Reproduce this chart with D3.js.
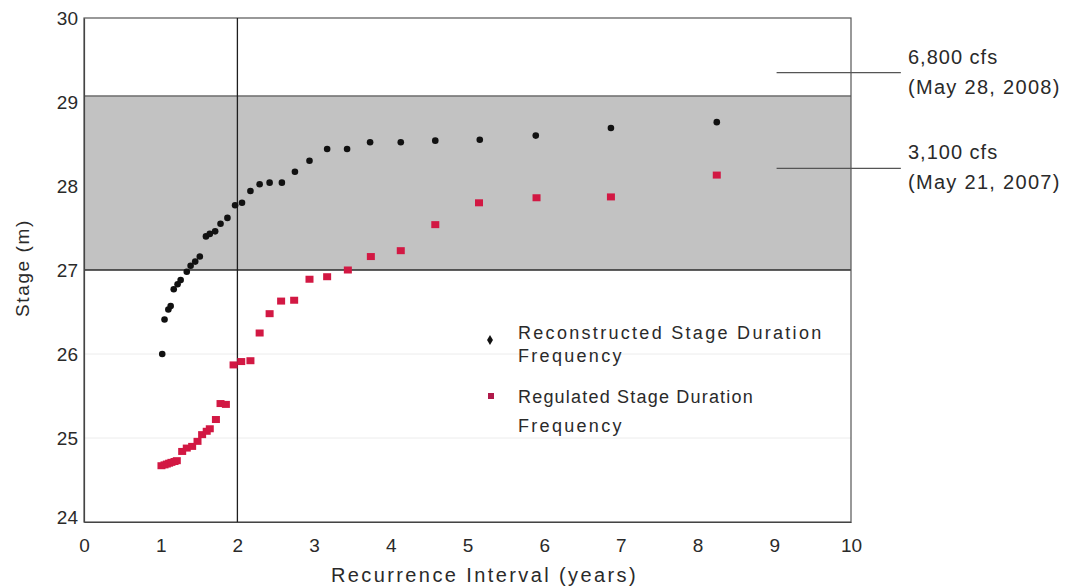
<!DOCTYPE html>
<head>
    <meta charset="utf-8">
    <title>Stage Duration Frequency</title>
    <script type="text/javascript" src="https://d3js.org/d3.v7.min.js"></script>
    <style>
        body { margin: 0; background: #fff; }
        text { font-family: "Liberation Sans", Arial, sans-serif; fill: #2a2a2a; }
    </style>
</head>
<body>
<div id="container"></div>

<script>
    //------------------------1. DATA------------------------//
    // recurrence interval (years) / stage (m)
    const reconX = [1.02, 1.05, 1.10, 1.13, 1.17, 1.22, 1.26, 1.34, 1.39, 1.45, 1.51, 1.59, 1.64, 1.71, 1.78, 1.87, 1.97,
        2.06, 2.17, 2.29, 2.42, 2.58, 2.75, 2.94, 3.17, 3.43, 3.73, 4.13, 4.58, 5.16, 5.89, 6.87, 8.25];
    const reconY = [26.00, 26.41, 26.53, 26.57, 26.77, 26.83, 26.88, 26.98, 27.05, 27.10, 27.16, 27.40, 27.43, 27.46, 27.55, 27.62, 27.77,
        27.80, 27.94, 28.02, 28.04, 28.04, 28.17, 28.30, 28.44, 28.44, 28.52, 28.52, 28.54, 28.55, 28.60, 28.69, 28.76];

    const regX = [1.01, 1.05, 1.08, 1.11, 1.14, 1.18, 1.21, 1.28, 1.34, 1.41, 1.48, 1.54, 1.60, 1.64, 1.72, 1.78, 1.85, 1.95,
        2.05, 2.17, 2.29, 2.42, 2.57, 2.74, 2.94, 3.17, 3.44, 3.74, 4.13, 4.58, 5.15, 5.90, 6.87, 8.25];
    const regY = [24.67, 24.68, 24.69, 24.70, 24.71, 24.72, 24.73, 24.84, 24.88, 24.90, 24.96, 25.04, 25.08, 25.11, 25.22, 25.41, 25.40, 25.87,
        25.91, 25.92, 26.25, 26.48, 26.63, 26.64, 26.89, 26.92, 27.00, 27.16, 27.23, 27.54, 27.80, 27.86, 27.87, 28.13];

    const xTicks = [0, 1, 2, 3, 4, 5, 6, 7, 8, 9, 10];
    const yTicks = [24, 25, 26, 27, 28, 29, 30];

    // shaded stage band and the 2-year line
    const band = [27, 29.07];
    const refInterval = 2;

    // flow annotations on the right
    const annoStage = [29.35, 28.21];
    const annoFlow = ["6,800 cfs", "3,100 cfs"];
    const annoDate = ["(May 28, 2008)", "(May 21, 2007)"];

    //------------------------2. SVG------------------------//
    const width = 1071;
    const height = 588;
    const plot = {left: 84, top: 18, right: 851, bottom: 522};

    const svg = d3.select("div#container").append("svg")
        .attr("width", width)
        .attr("height", height);

    const xScale = d3.scaleLinear().domain([0, 10]).range([plot.left, plot.right]);
    const yScale = d3.scaleLinear().domain([24, 30]).range([plot.bottom, plot.top]);

    //-----------------------------GRID / BAND-----------------------------//
    svg.append("g")
        .selectAll("line")
        .data([25, 26])
        .enter()
        .append("line")
        .attr("x1", plot.left).attr("x2", plot.right)
        .attr("y1", d => yScale(d)).attr("y2", d => yScale(d))
        .style("stroke", "#ececec");

    svg.append("rect")
        .attr("x", plot.left)
        .attr("y", yScale(band[1]))
        .attr("width", plot.right - plot.left)
        .attr("height", yScale(band[0]) - yScale(band[1]))
        .style("fill", "#c2c2c2");

    svg.append("line")
        .attr("x1", plot.left).attr("x2", plot.right)
        .attr("y1", yScale(band[1])).attr("y2", yScale(band[1]))
        .style("stroke", "#6a6a6a").style("stroke-width", 1.5);

    svg.append("line")
        .attr("x1", plot.left).attr("x2", plot.right)
        .attr("y1", yScale(band[0])).attr("y2", yScale(band[0]))
        .style("stroke", "#2a2a2a").style("stroke-width", 1.5);

    // frame
    svg.append("rect")
        .attr("x", plot.left).attr("y", plot.top)
        .attr("width", plot.right - plot.left)
        .attr("height", plot.bottom - plot.top)
        .style("fill", "none")
        .style("stroke", "#555")
        .style("stroke-width", 1.2);

    svg.append("line")
        .attr("x1", xScale(refInterval)).attr("x2", xScale(refInterval))
        .attr("y1", plot.top).attr("y2", plot.bottom)
        .style("stroke", "#1e1e1e").style("stroke-width", 1.3);

    //-----------------------------AXES-----------------------------//
    const xaxis = d3.axisBottom(xScale).tickValues(xTicks).tickFormat(d3.format("d")).tickSize(0).tickPadding(17);
    const yaxis = d3.axisLeft(yScale).tickValues(yTicks).tickFormat(d3.format("d")).tickSize(0).tickPadding(6);

    const gx = svg.append("g")
        .attr("transform", "translate(0," + plot.bottom + ")")
        .call(xaxis);
    const gy = svg.append("g")
        .attr("transform", "translate(" + plot.left + ",0)")
        .call(yaxis);

    [gx, gy].forEach(function(g) {
        g.select(".domain").style("stroke", "#444").style("stroke-width", 1.2);
        g.selectAll("text").style("font-size", "19px").style("fill", "#2a2a2a")
            .style("font-family", "\"Liberation Sans\", Arial, sans-serif");
    });
    gy.selectAll(".tick text").attr("dy", "0.32em");
    gy.selectAll(".tick").filter(d => d === 24).select("text").attr("dy", "0.1em");

    svg.append("text")
        .attr("x", (plot.left + plot.right) / 2 + 17)
        .attr("y", 582)
        .style("text-anchor", "middle")
        .style("font-size", "20px")
        .style("letter-spacing", "2.4px")
        .text("Recurrence Interval (years)");

    svg.append("text")
        .attr("transform", "translate(29," + ((plot.top + plot.bottom) / 2 - 2) + ") rotate(-90)")
        .style("text-anchor", "middle")
        .style("font-size", "19px")
        .style("letter-spacing", "1.6px")
        .text("Stage (m)");

    //-----------------------------POINTS-----------------------------//
    const recon = reconX.map((x, i) => ({x: x, y: reconY[i]}));
    const reg = regX.map((x, i) => ({x: x, y: regY[i]}));

    svg.append("g")
        .selectAll("rect")
        .data(reg)
        .enter()
        .append("rect")
        .attr("x", d => xScale(d.x) - 4)
        .attr("y", d => yScale(d.y) - 3.5)
        .attr("width", 8)
        .attr("height", 7)
        .style("fill", "#d21843");

    svg.append("g")
        .selectAll("circle")
        .data(recon)
        .enter()
        .append("circle")
        .attr("cx", d => xScale(d.x))
        .attr("cy", d => yScale(d.y))
        .attr("r", 3.3)
        .style("fill", "#111");

    //-------------------------  Legend  ---------------------------//
    const legend = svg.append("g").style("font-size", "18px");
    legend.append("path")
        .attr("d", d3.symbol().type(d3.symbolDiamond).size(30))
        .attr("transform", "translate(490,340)")
        .style("fill", "#111");
    legend.append("text").attr("x", 518).attr("y", 339).style("letter-spacing", "2.3px").text("Reconstructed Stage Duration");
    legend.append("text").attr("x", 518).attr("y", 362).style("letter-spacing", "2.3px").text("Frequency");

    legend.append("rect")
        .attr("x", 488).attr("y", 393).attr("width", 6).attr("height", 6)
        .style("fill", "#b01a4a");
    legend.append("text").attr("x", 518).attr("y", 403).style("letter-spacing", "1.2px").text("Regulated Stage Duration");
    legend.append("text").attr("x", 518).attr("y", 432).style("letter-spacing", "2.3px").text("Frequency");

    //-------------------------  Annotations  ---------------------------//
    const anno = svg.append("g")
        .selectAll("g")
        .data(annoStage)
        .enter()
        .append("g");

    anno.append("line")
        .attr("x1", xScale(9.03)).attr("x2", xScale(10.65))
        .attr("y1", d => yScale(d)).attr("y2", d => yScale(d))
        .style("stroke", "#555").style("stroke-width", 1.2);

    anno.append("text")
        .attr("x", 908)
        .attr("y", d => yScale(d) - 9)
        .style("font-size", "20px")
        .style("letter-spacing", "1px")
        .text((d, i) => annoFlow[i]);

    anno.append("text")
        .attr("x", 908)
        .attr("y", d => yScale(d) + 21)
        .style("font-size", "20px")
        .style("letter-spacing", "1.3px")
        .text((d, i) => annoDate[i]);
</script>
</body>
